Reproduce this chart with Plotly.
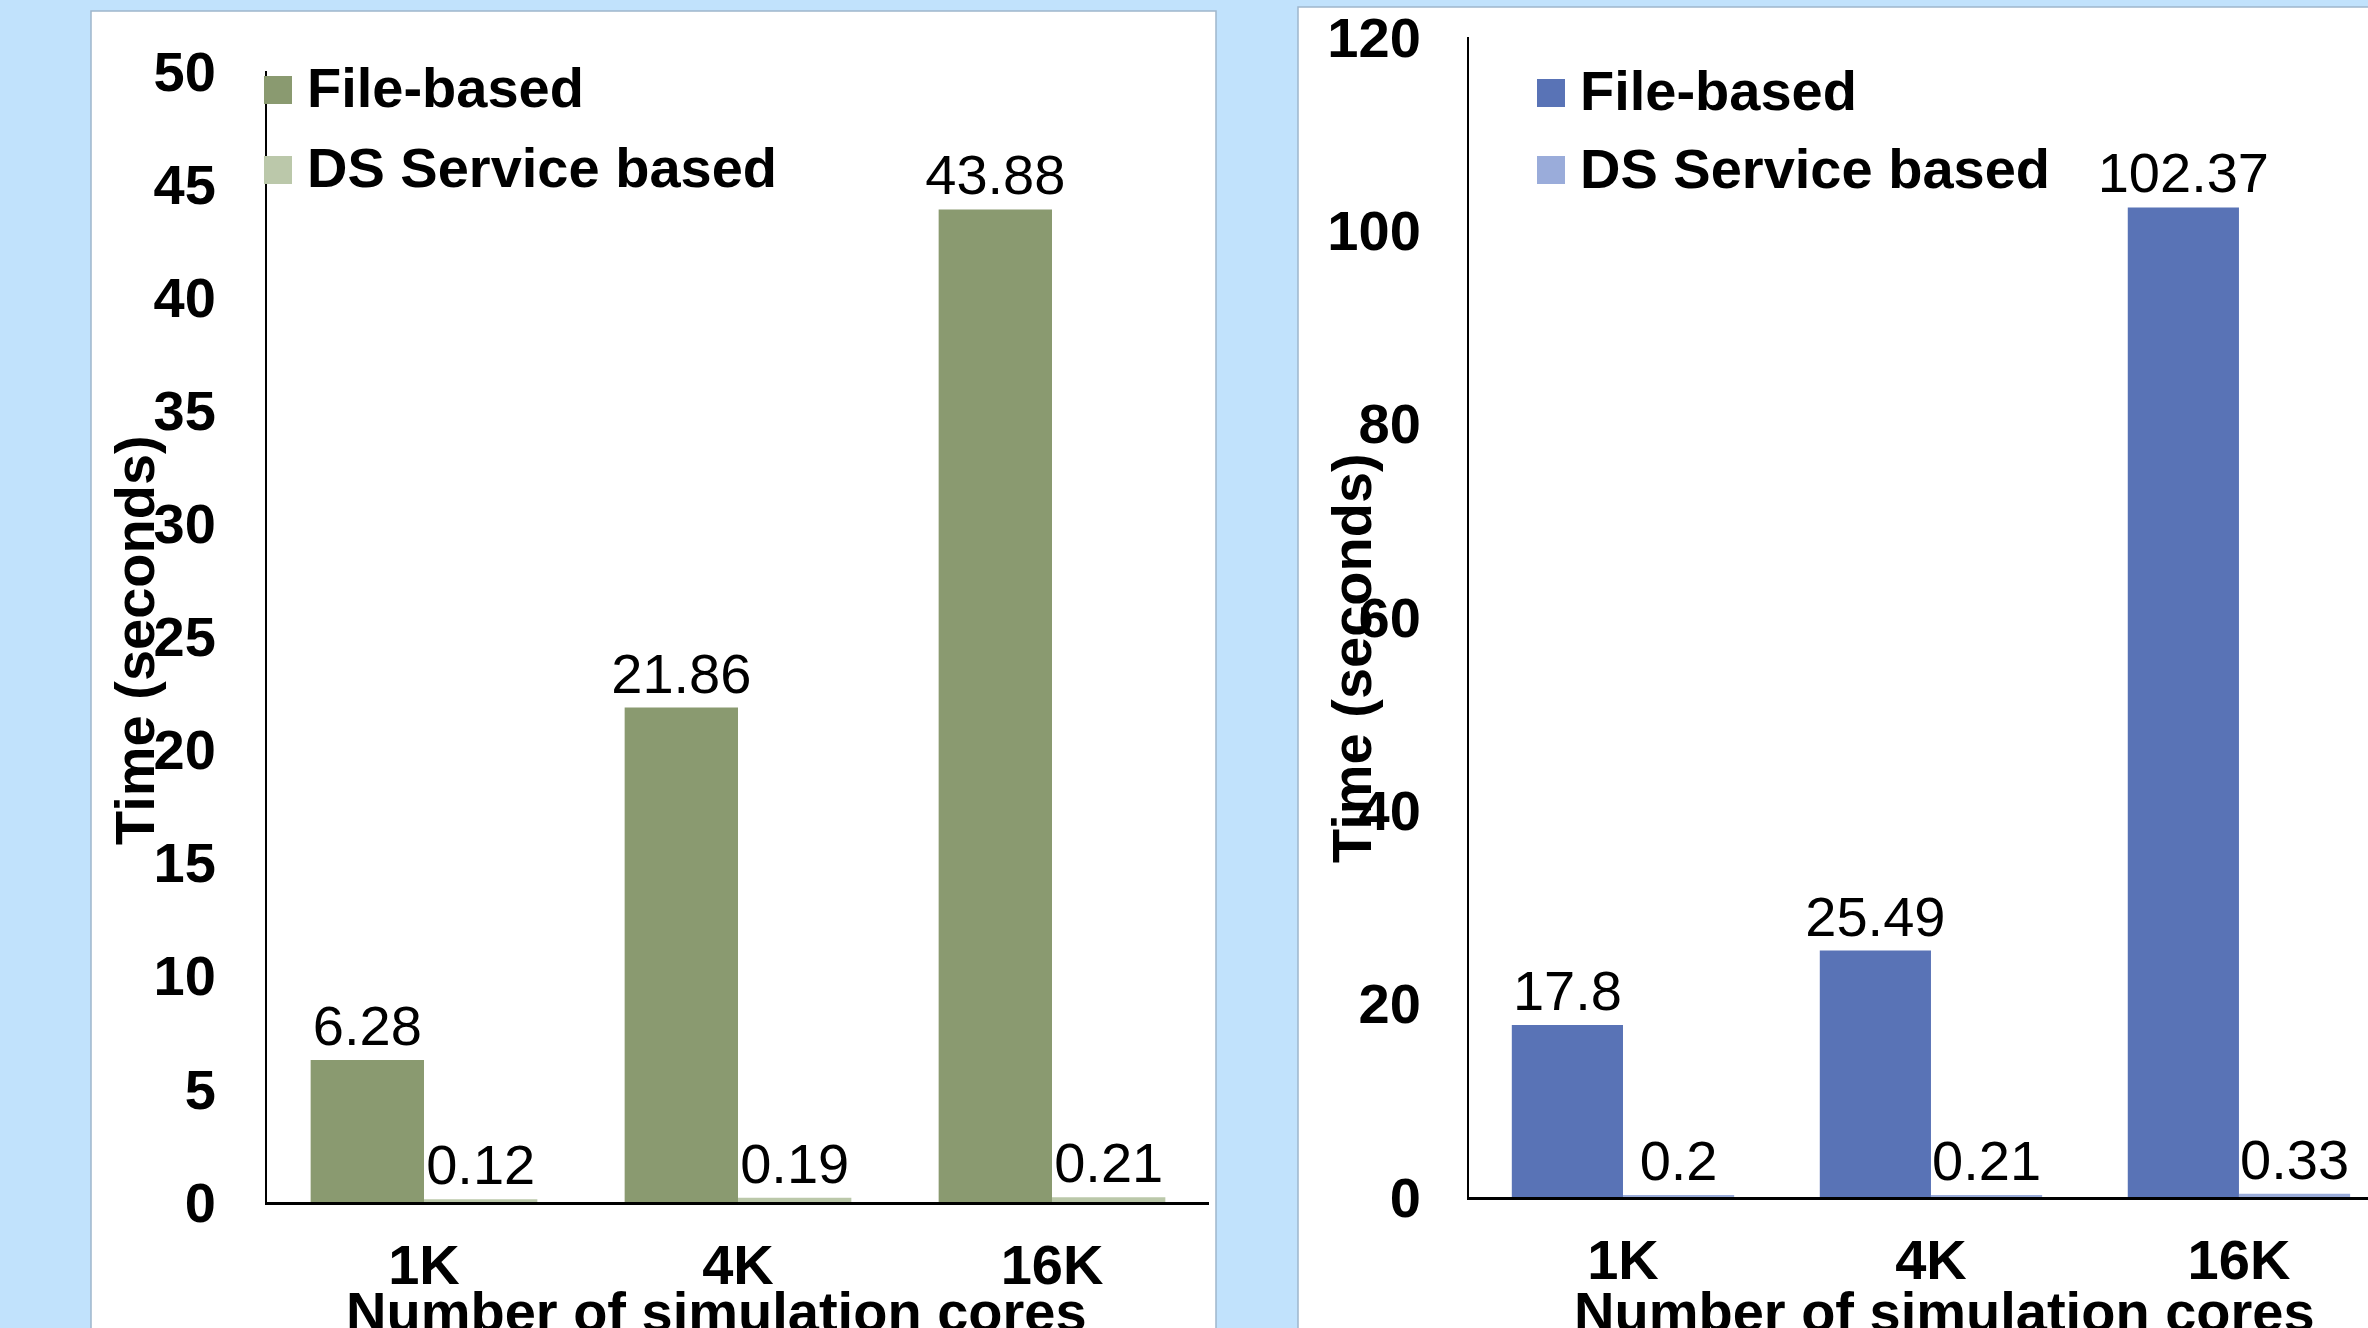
import plotly.graph_objects as go

# --- data -----------------------------------------------------------------
categories = ["1K", "4K", "16K"]
series_names = ["File-based", "DS Service based"]

left_file = [6.28, 21.86, 43.88]
left_ds = [0.12, 0.19, 0.21]

right_file = [17.8, 25.49, 102.37]
right_ds = [0.2, 0.21, 0.33]

left_ticks = [0, 5, 10, 15, 20, 25, 30, 35, 40, 45, 50]
right_ticks = [0, 20, 40, 60, 80, 100, 120]

x_title = "Number of simulation cores"
y_title = "Time (seconds)"

# --- styling --------------------------------------------------------------
W, H = 2368, 1328
FONT = "Liberation Sans, Arial, sans-serif"
green = ["#8A9A70", "#BBC8AA"]
blue = ["#5973B6", "#9AACDA"]


def px(x):
    return x / W


def py(y):
    return 1 - y / H


fig = go.Figure()

for vals, col, name in zip([left_file, left_ds], green, series_names):
    fig.add_trace(go.Bar(
        x=categories, y=vals, name=name, marker=dict(color=col, line_width=0),
        text=vals, texttemplate="%{y}", textposition="outside",
        textfont=dict(family=FONT, size=56, color="black"),
        constraintext="none", cliponaxis=False, showlegend=False,
        xaxis="x", yaxis="y"))

for vals, col, name in zip([right_file, right_ds], blue, series_names):
    fig.add_trace(go.Bar(
        x=categories, y=vals, name=name, marker=dict(color=col, line_width=0),
        text=vals, texttemplate="%{y}", textposition="outside",
        textfont=dict(family=FONT, size=56, color="black"),
        constraintext="none", cliponaxis=False, showlegend=False,
        xaxis="x2", yaxis="y2"))

axis_font = dict(family=FONT, size=56, color="black", weight="bold")

common_x = dict(type="category", showgrid=False, zeroline=False, showline=True,
                linecolor="black", linewidth=3, ticks="", tickfont=axis_font,
                ticklabelstandoff=12, automargin=False)
common_y = dict(showgrid=False, zeroline=False, showline=True, linecolor="black",
                linewidth=2, ticks="", tickfont=axis_font, automargin=False)

# white slide panels behind the two charts
shapes = [
    dict(type="rect", xref="paper", yref="paper", x0=px(91), x1=px(1216),
         y0=py(1340), y1=py(11), fillcolor="white",
         line=dict(color="#9FB6CC", width=1.5), layer="below"),
    dict(type="rect", xref="paper", yref="paper", x0=px(1298), x1=px(2380),
         y0=py(1340), y1=py(7), fillcolor="white",
         line=dict(color="#9FB6CC", width=1.5), layer="below"),
]

annotations = []

# hand-drawn legends with large swatches
legend_specs = [
    (green, 264, 292, 305, [90, 170], [87, 167]),
    (blue, 1537, 1565, 1578, [93, 170], [91, 168]),
]
for cols, sx0, sx1, tx, ys, tys in legend_specs:
    for col, name, yc, ty in zip(cols, series_names, ys, tys):
        shapes.append(dict(type="rect", xref="paper", yref="paper",
                           x0=px(sx0), x1=px(sx1), y0=py(yc + 14), y1=py(yc - 14),
                           fillcolor=col, line_width=0, layer="above"))
        annotations.append(dict(xref="paper", yref="paper", x=px(tx), y=py(ty),
                                xanchor="left", yanchor="middle", text=name,
                                showarrow=False,
                                font=dict(family=FONT, size=56, color="black",
                                          weight="bold")))

# axis titles
for cx in (716, 1944):
    annotations.append(dict(xref="paper", yref="paper", x=px(cx), y=py(1278),
                            xanchor="center", yanchor="top", text=x_title,
                            showarrow=False,
                            font=dict(family=FONT, size=56, color="black",
                                      weight="bold")))
for cx, cy in ((134, 640), (1352, 658)):
    annotations.append(dict(xref="paper", yref="paper", x=px(cx), y=py(cy),
                            xanchor="center", yanchor="middle", text=y_title,
                            textangle=-90, showarrow=False,
                            font=dict(family=FONT, size=56, color="black",
                                      weight="bold")))

fig.update_layout(
    width=W, height=H, autosize=False,
    margin=dict(l=0, r=0, t=0, b=0, pad=0, autoexpand=False),
    paper_bgcolor="#C1E2FC", plot_bgcolor="white",
    barmode="group", bargap=0.278, bargroupgap=0,
    showlegend=False,
    font=dict(family=FONT, color="black"),
    xaxis=dict(domain=[px(267), px(1209)], range=[-0.5, 2.5], anchor="y", **common_x),
    yaxis=dict(domain=[py(1202), py(71)], range=[0, 50], tickvals=left_ticks,
               anchor="x", ticklabelstandoff=38, **common_y),
    xaxis2=dict(domain=[px(1469), 1.0], range=[-0.5, 2.419], anchor="y2", **common_x),
    yaxis2=dict(domain=[py(1197), py(37)], range=[0, 120], tickvals=right_ticks,
                anchor="x2", ticklabelstandoff=35, **common_y),
    shapes=shapes,
    annotations=annotations,
)

fig.write_html("out.html")
